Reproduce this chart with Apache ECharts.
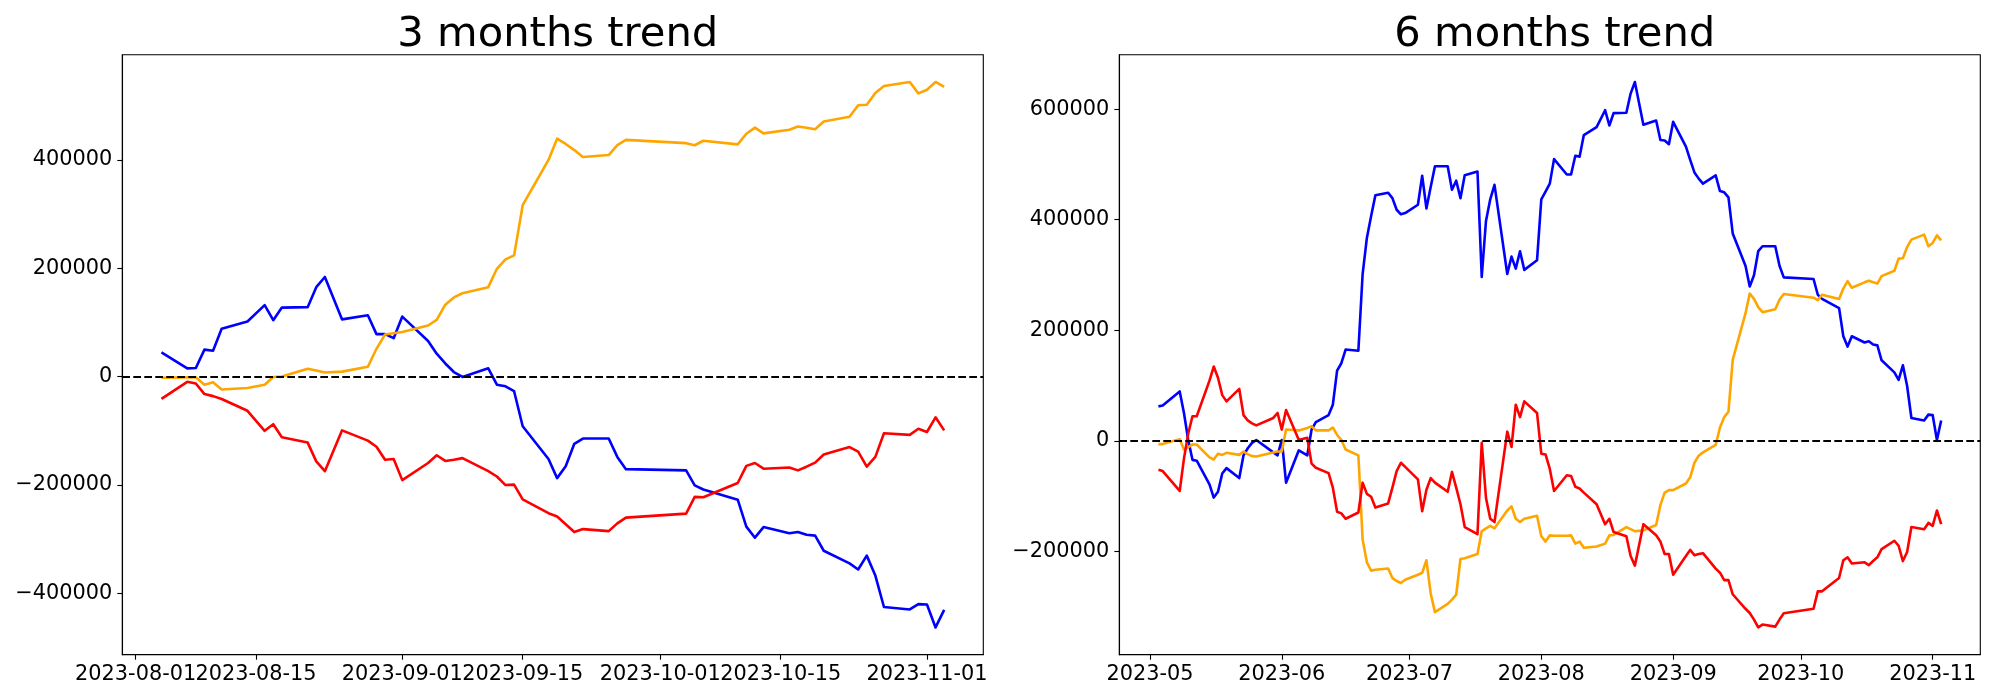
<!DOCTYPE html>
<html><head><meta charset="utf-8">
<script src="https://cdn.jsdelivr.net/npm/echarts@6/dist/echarts.min.js"></script>
<style>html,body{margin:0;padding:0;background:#fff}#chart{width:2000px;height:700px}</style>
</head><body><div id="chart"></div>
<script>
// ---------- 3 months trend ----------
const dates3 = [
 '2023-08-04','2023-08-07','2023-08-08','2023-08-09','2023-08-10','2023-08-11','2023-08-14','2023-08-16','2023-08-17','2023-08-18',
 '2023-08-21','2023-08-22','2023-08-23','2023-08-25','2023-08-28','2023-08-29','2023-08-30','2023-08-31',
 '2023-09-01','2023-09-04','2023-09-05','2023-09-06','2023-09-07','2023-09-08','2023-09-11','2023-09-12','2023-09-13','2023-09-14',
 '2023-09-15','2023-09-18','2023-09-19','2023-09-20','2023-09-21','2023-09-22','2023-09-25','2023-09-26','2023-09-27',
 '2023-10-04','2023-10-05','2023-10-06','2023-10-10','2023-10-11','2023-10-12','2023-10-13','2023-10-16','2023-10-17','2023-10-18',
 '2023-10-19','2023-10-20','2023-10-23','2023-10-24','2023-10-25','2023-10-26','2023-10-27','2023-10-30','2023-10-31',
 '2023-11-01','2023-11-02','2023-11-03'];
const blue3 = [
 44400,15100,15800,49700,47500,88100,101700,131800,104000,127300,128100,165000,183800,105500,113000,78300,78300,70800,
 110700,65500,42200,24100,8300,-800,15100,-15100,-18100,-27100,-91900,-152200,-187600,-165700,-124300,-114500,-114500,-148400,-171000,
 -173300,-201100,-208700,-227500,-277200,-297600,-278000,-289300,-287000,-292300,-293800,-321700,-345000,-356300,-330700,-367600,-425600,-430100,-420300,
 -421100,-463300,-430900];
const orange3 = [
 -2300,-1500,-1500,-15100,-10500,-24100,-21100,-15100,-800,0,14300,11300,7500,9000,18100,51200,77600,79900,
 82100,94200,104700,132600,146100,153700,165000,198900,216200,223700,316400,400000,439200,429400,418100,405300,409000,427100,436900,
 430900,427100,435400,428600,448200,459500,449000,455700,461800,459500,456500,470800,479800,500900,501700,523500,536400,543900,522800,
 529600,543900,534800];
const red3 = [
 -41400,-9800,-12800,-32400,-36200,-41400,-63300,-100200,-88100,-112200,-122000,-156700,-174800,-99400,-118300,-129600,-153700,-152200,
 -191300,-159700,-145400,-155900,-153700,-150700,-174800,-184600,-200400,-199600,-226700,-252400,-258400,-272700,-287000,-281700,-285500,-271200,-260600,
 -253100,-222200,-223000,-196600,-165000,-159700,-170200,-168000,-173300,-166500,-159000,-143900,-130300,-138600,-166500,-148400,-104700,-107700,-96400,
 -102400,-75300,-99400];
const xTicks3 = ['2023-08-01','2023-08-15','2023-09-01','2023-09-15','2023-10-01','2023-10-15','2023-11-01'];
const xTickLabels3 = ['2023-08-01','2023-08-15','2023-09-01','2023-09-15','2023-10-01','2023-10-15','2023-11-01'];
const yTicks3 = [-400000,-200000,0,200000,400000];

// ---------- 6 months trend ----------
const dates6 = [
 '2023-05-03','2023-05-04','2023-05-08','2023-05-09','2023-05-10','2023-05-11','2023-05-12','2023-05-15','2023-05-16','2023-05-17',
 '2023-05-18','2023-05-19','2023-05-22','2023-05-23','2023-05-24','2023-05-25','2023-05-26','2023-05-30','2023-05-31',
 '2023-06-01','2023-06-02','2023-06-05','2023-06-07','2023-06-08','2023-06-09','2023-06-12','2023-06-13','2023-06-14','2023-06-15',
 '2023-06-16','2023-06-19','2023-06-20','2023-06-21','2023-06-22','2023-06-23','2023-06-26','2023-06-27','2023-06-28','2023-06-29','2023-06-30',
 '2023-07-03','2023-07-04','2023-07-05','2023-07-06','2023-07-07','2023-07-10','2023-07-11','2023-07-12','2023-07-13','2023-07-14',
 '2023-07-17','2023-07-18','2023-07-19','2023-07-20','2023-07-21','2023-07-24','2023-07-25','2023-07-26','2023-07-27','2023-07-28','2023-07-31',
 '2023-08-01','2023-08-02','2023-08-03','2023-08-04','2023-08-07','2023-08-08','2023-08-09','2023-08-10','2023-08-11','2023-08-14',
 '2023-08-16','2023-08-17','2023-08-18','2023-08-21','2023-08-22','2023-08-23','2023-08-25','2023-08-28','2023-08-29','2023-08-30','2023-08-31',
 '2023-09-01','2023-09-04','2023-09-05','2023-09-06','2023-09-07','2023-09-08','2023-09-11','2023-09-12','2023-09-13','2023-09-14',
 '2023-09-15','2023-09-18','2023-09-19','2023-09-20','2023-09-21','2023-09-22','2023-09-25','2023-09-26','2023-09-27',
 '2023-10-04','2023-10-05','2023-10-06','2023-10-10','2023-10-11','2023-10-12','2023-10-13','2023-10-16','2023-10-17','2023-10-18',
 '2023-10-19','2023-10-20','2023-10-23','2023-10-24','2023-10-25','2023-10-26','2023-10-27','2023-10-30','2023-10-31',
 '2023-11-01','2023-11-02','2023-11-03'];
const blue6 = [
 62300,63800,89300,50300,1500,-34500,-36000,-78800,-102800,-92300,-59300,-49500,-67500,-26300,-13500,-3800,1500,-21000,-26300,
 1500,-75800,-17300,-26300,20300,33800,46500,65300,126800,140300,165100,162900,301700,367000,406800,444300,448800,439000,418000,409800,412000,
 427000,479600,420300,459300,496800,496800,454100,470600,439000,480300,487100,296400,397800,436800,463100,301700,333200,311500,343000,309200,326500,
 436800,451000,465300,509600,481800,481800,515600,514100,553100,567400,598100,570400,592900,593600,628200,649200,571900,579400,544100,543400,536600,
 577100,532100,508100,485600,474300,465300,480300,451800,449500,440500,375200,316700,279200,299500,343000,352000,352000,316700,295700,
 292700,264200,256700,240200,189100,170400,189100,177900,180100,174100,172600,145600,123800,110300,136600,99100,41300,36800,47300,
 46500,1500,36800];
const orange6 = [
 -6000,-6000,3000,-15800,-11300,-6800,-6800,-30000,-33800,-23300,-25500,-21800,-25500,-19500,-24000,-27800,-28500,-21000,-19500,
 -19500,20300,18800,23300,26300,18800,18800,24000,10500,1500,-15800,-26300,-178600,-219900,-234900,-233400,-231200,-248400,-253700,-257400,-251400,
 -242400,-238700,-216100,-276200,-310000,-295000,-287400,-278400,-213900,-212400,-204900,-163600,-158400,-153900,-158400,-126100,-118600,-141100,-147100,-141100,-135800,
 -172600,-182400,-171100,-171900,-171900,-171100,-186100,-182400,-193600,-191400,-186100,-171100,-170400,-156100,-159900,-163600,-162100,-152400,-116300,-93800,-89300,
 -89300,-77300,-66000,-39800,-27000,-21000,-7500,24000,42800,52500,146300,230400,266400,256700,241700,232700,237900,255200,265700,
 258900,254400,264200,256700,275400,288900,276900,286700,289700,286700,284400,297900,307700,329500,330200,350500,364000,373000,352000,
 358000,371500,362500];
const red6 = [
 -52500,-54800,-90800,-32300,12800,44300,44300,108800,134300,114100,82600,71300,93800,46500,36800,31500,27800,41300,50300,
 20300,55500,1500,5300,-41300,-48800,-58500,-84800,-128300,-131300,-141100,-129800,-75800,-96100,-101300,-120800,-113300,-84800,-54800,-39800,-47300,
 -69800,-127600,-88600,-67500,-75800,-92300,-56300,-84800,-114800,-156100,-168900,-3800,-103600,-141100,-147100,16500,-11300,65300,42800,71300,50300,
 -23300,-24800,-51000,-90800,-62300,-63800,-83300,-86300,-93800,-114800,-150900,-141100,-165100,-172600,-208600,-225900,-150900,-171100,-182400,-204900,-204900,
 -242400,-208600,-197400,-207100,-204900,-203400,-231200,-238700,-252200,-252200,-277700,-304000,-311500,-323500,-337700,-332500,-336200,-323500,-312200,
 -304000,-272400,-272400,-248400,-216100,-210900,-222100,-219900,-225100,-217600,-210900,-195900,-180900,-189900,-217600,-201100,-156100,-159900,-148600,
 -153900,-126100,-150900];
const xTicks6 = ['2023-05-01','2023-06-01','2023-07-01','2023-08-01','2023-09-01','2023-10-01','2023-11-01'];
const xTickLabels6 = ['2023-05','2023-06','2023-07','2023-08','2023-09','2023-10','2023-11'];
const yTicks6 = [-200000,0,200000,400000,600000];

const titles = ['3 months trend','6 months trend'];
const colors = ['#0000ff','#ffa500','#ff0000'];

// ---------- build ----------
const toTs = s => Date.UTC(+s.slice(0,4), +s.slice(5,7)-1, +s.slice(8,10));
const pad = (lo, hi) => { const s = hi - lo; return [lo - 0.05*s, hi + 0.05*s]; };
const FONT = 'DejaVu Sans';
const TICK_FS = 20.83;

const panels = [
  {dates: dates3, series: [blue3, orange3, red3], xt: xTicks3, xl: xTickLabels3, yt: yTicks3, left: 122.3},
  {dates: dates6, series: [blue6, orange6, red6], xt: xTicks6, xl: xTickLabels6, yt: yTicks6, left: 1119.3}
];
const GW = 861, GT = 54.7, GH = 600;

const grid = [], xAxis = [], yAxis = [], series = [], title = [];
panels.forEach((p, k) => {
  const ts = p.dates.map(toTs);
  const xr = pad(ts[0], ts[ts.length-1]);
  const all = [].concat(...p.series);
  const yr = pad(Math.min(...all), Math.max(...all));
  const xtTs = p.xt.map(toTs);
  const fmt = v => { const i = xtTs.indexOf(v); return i >= 0 ? p.xl[i] : ''; };
  const labA = xtTs.filter((v, i) => i !== 1);   // main axis labels
  const labB = [xtTs[1]];                         // second label drawn by an overlay axis
  grid.push({left: p.left, top: GT, width: GW, height: GH, show: true, borderColor: '#000', borderWidth: 1.1, backgroundColor: 'transparent'});
  const labelBase = {margin: 9, color: '#000', fontSize: TICK_FS, fontFamily: FONT, showMinLabel: true, showMaxLabel: true, formatter: fmt};
  xAxis.push({
    type: 'value', gridIndex: k, min: xr[0], max: xr[1], position: 'bottom',
    axisLine: {show: true, onZero: false, lineStyle: {color: '#000', width: 1.1}},
    axisTick: {show: true, length: 5, customValues: xtTs, lineStyle: {color: '#000', width: 1.1}},
    axisLabel: Object.assign({customValues: labA}, labelBase),
    splitLine: {show: false}
  });
  xAxis.push({
    type: 'value', gridIndex: k, min: xr[0], max: xr[1], position: 'bottom', offset: 0,
    axisLine: {show: false, onZero: false},
    axisTick: {show: false, customValues: labB},
    axisLabel: Object.assign({customValues: labB}, labelBase),
    splitLine: {show: false}
  });
  yAxis.push({
    type: 'value', gridIndex: k, min: yr[0], max: yr[1],
    axisLine: {show: true, lineStyle: {color: '#000', width: 1.1}},
    axisTick: {show: true, length: 5, customValues: p.yt, lineStyle: {color: '#000', width: 1.1}},
    axisLabel: {customValues: p.yt, margin: 10, color: '#000', fontSize: TICK_FS, fontFamily: FONT,
      showMinLabel: true, showMaxLabel: true,
      formatter: v => v < 0 ? '\u2212' + Math.abs(v) : String(v)},
    splitLine: {show: false}
  });
  p.series.forEach((vals, j) => {
    const s = {
      type: 'line', xAxisIndex: 2*k, yAxisIndex: k, showSymbol: false, symbol: 'none',
      data: vals.map((v, i) => [ts[i], v]),
      lineStyle: {color: colors[j], width: 2.6, join: 'round'},
      itemStyle: {color: colors[j]}, z: 2 + j, silent: true, animation: false
    };
    if (j === p.series.length - 1) {
      s.markLine = {silent: true, symbol: ['none','none'], label: {show: false}, animation: false,
        lineStyle: {type: [7.7, 3.3], color: '#000', width: 2.1},
        data: [{yAxis: 0}]};
    }
    series.push(s);
  });
  title.push({text: titles[k], left: p.left + GW/2, top: 9, textAlign: 'center',
    textStyle: {fontSize: 41.67, fontWeight: 'normal', color: '#000', fontFamily: FONT}});
});

const chart = echarts.init(document.getElementById('chart'), null, {renderer: 'canvas'});
chart.setOption({animation: false, backgroundColor: '#fff', title, grid, xAxis, yAxis, series});
</script>
</body></html>
